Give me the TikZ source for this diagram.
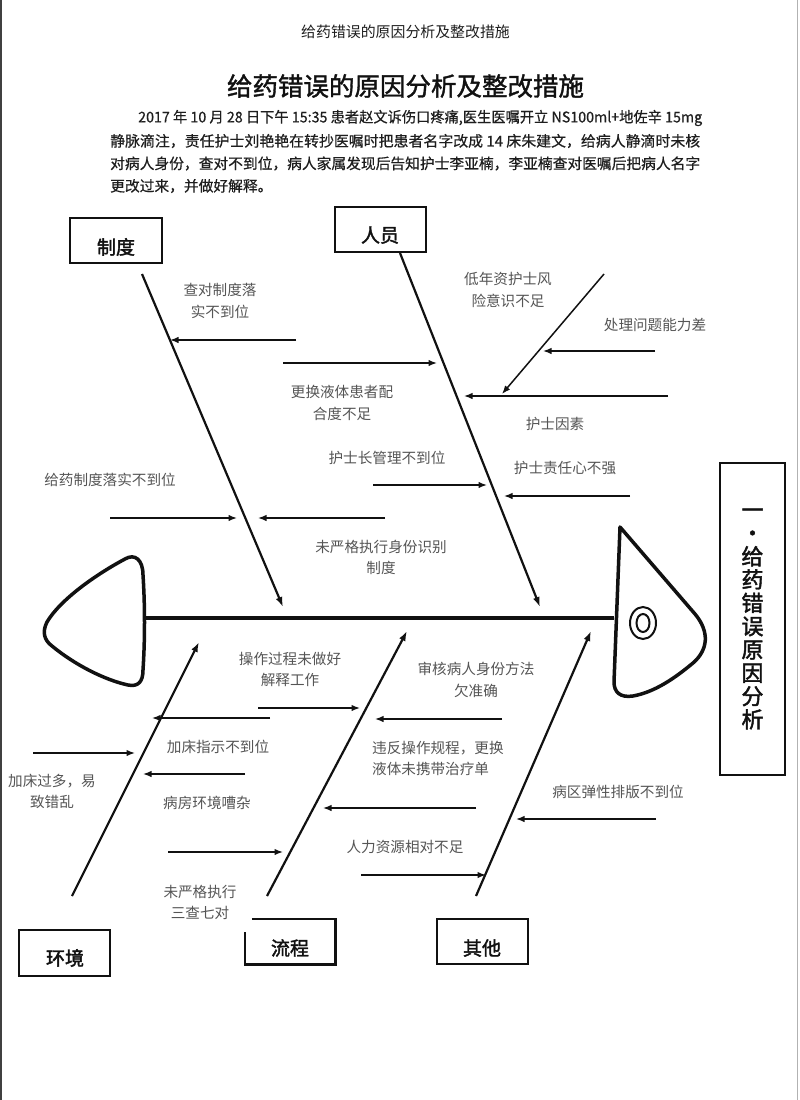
\documentclass[tikz,border=0pt]{standalone}
\usepackage{fontspec}
\setmainfont[AutoFakeBold=2]{Noto Sans CJK SC}
\newfontfamily\titlefont[FakeBold=1.4]{Noto Sans CJK SC}
\newfontfamily\parafont[FakeBold=0.5]{Noto Sans CJK SC}
\usepackage{graphicx}
\usetikzlibrary{arrows.meta}
\definecolor{labelgray}{HTML}{555555}
\definecolor{inkc}{HTML}{111111}
\definecolor{paragc}{HTML}{1E1E1E}
\begin{document}
\begin{tikzpicture}[x=1pt,y=-1pt,
  bone/.style={draw=inkc, line width=2.2pt, -{Latex[length=10pt,width=7pt]}},
  subarrow/.style={draw=inkc, line width=1.5pt, -{Latex[length=8.5pt,width=6.5pt]}},
  lbl/.style={text=labelgray, font=\fontsize{14.6}{21.5}\selectfont, align=center, inner sep=0pt},
  para/.style={text=paragc, font=\parafont\fontsize{14.75}{15}\selectfont, inner sep=0pt, anchor=west},
  catbox/.style={draw=inkc, line width=2.6pt, inner sep=0pt},
  cattext/.style={text=inkc, font=\bfseries\fontsize{19}{19}\selectfont, inner sep=0pt},
  fishline/.style={draw=inkc, line width=3.5pt, line join=round}
]
\fill[white] (0,0) rectangle (800,1100);
\path[use as bounding box] (0,0) rectangle (800,1100);
\draw[line width=1.5pt, black!75] (1,0) -- (1,1100);
\draw[line width=1pt, black!30] (797,0) -- (797,1100);

% header, title, paragraph
\node[text=paragc, font=\fontsize{14.9}{15}\selectfont, inner sep=0pt] (hdr) at (405.5,32) {给药错误的原因分析及整改措施};
\node[text=inkc, font=\titlefont\fontsize{25.5}{26}\selectfont, inner sep=0pt] (ttl) at (405.5,86) {给药错误的原因分析及整改措施};
\node[para] (p1) at (138,118) {\resizebox{564pt}{\height}{2017 年 10 月 28 日下午 15:35 患者赵文诉伤口疼痛,医生医嘱开立 NS100ml+地佐辛 15mg}};
\node[para] (p2) at (110,141) {\resizebox{590pt}{\height}{静脉滴注，责任护士刘艳艳在转抄医嘱时把患者名字改成 14 床朱建文，给病人静滴时未核}};
\node[para] (p3) at (110,163.5) {\resizebox{590pt}{\height}{对病人身份，查对不到位，病人家属发现后告知护士李亚楠，李亚楠查对医嘱后把病人名字}};
\node[para] (p4) at (110,186) {更改过来，并做好解释。};

% fish tail, spine, head
\draw[fishline] (143,575) .. controls (143,560) and (135,553) .. (125,559)
  .. controls (95,575) and (60,600) .. (47,622)
  .. controls (42,632) and (44,640) .. (52,646)
  .. controls (75,665) and (105,680) .. (128,685)
  .. controls (138,687) and (143,682) .. (143,670)
  .. controls (145,640) and (145,605) .. (143,575) -- cycle;
\coordinate (spL) at (144,618);
\coordinate (spR) at (614,618);
\draw[draw=inkc, line width=4pt] (spL) -- (spR);
\draw[fishline] (620,527) -- (695,614) .. controls (710,632) and (708,650) .. (693,663)
  .. controls (675,678) and (655,692) .. (633,696) .. controls (620,698) and (614,692) .. (614,682) -- cycle;
\draw[draw=inkc, line width=2pt] (643,623) ellipse [x radius=13, y radius=16];
\draw[draw=inkc, line width=2pt] (643,623) ellipse [x radius=6.5, y radius=9];

% right title box
\node[catbox, minimum width=65pt, minimum height=312pt, align=center,
      font=\bfseries\fontsize{22}{23.3}\selectfont, text=inkc] (rbox) at (752.5,619)
      {一\\·\\给\\药\\错\\误\\原\\因\\分\\析};

% category boxes
\node[catbox, minimum width=92pt, minimum height=45pt] (bxzd) at (116,240.5) {};
\node[cattext] (tzd) at (116,247) {制度};
\node[catbox, minimum width=91pt, minimum height=45pt] (bxry) at (380.5,229.5) {};
\node[cattext] (try) at (380,235) {人员};
\node[catbox, minimum width=91pt, minimum height=46pt] (bxhj) at (64.5,953) {};
\node[cattext] (thj) at (65,958) {环境};
\node[inner sep=0pt, minimum width=90pt, minimum height=45pt] (bxlc) at (290,941.5) {};
\draw[draw=inkc, line width=2.6pt] ([xshift=7pt]bxlc.north west) -- (bxlc.north east) -- (bxlc.south east) -- (bxlc.south west) -- ([yshift=-13pt]bxlc.north west);
\node[cattext] (tlc) at (290,948) {流程};
\node[catbox, minimum width=91pt, minimum height=45pt] (bxqt) at (482.5,941.5) {};
\node[cattext] (tqt) at (482,948) {其他};

% main bones
\coordinate (b1s) at (142,274); \coordinate (b1e) at (283,607);
\coordinate (b2s) at (400,253); \coordinate (b2e) at (540,607);
\coordinate (b3s) at (72,896);  \coordinate (b3e) at (199,642);
\coordinate (b4s) at (267,896); \coordinate (b4e) at (407,631);
\coordinate (b5s) at (476,896); \coordinate (b5e) at (591,631);
\draw[bone] (b1s) -- (b1e);
\draw[bone] (b2s) -- (b2e);
\draw[bone] (b3s) -- (b3e);
\draw[bone] (b4s) -- (b4e);
\draw[bone] (b5s) -- (b5e);

% sub arrows
\coordinate (a1s) at (296,340);  \coordinate (a1e) at (170,340);
\coordinate (a2s) at (283,363);  \coordinate (a2e) at (437,363);
\coordinate (a3s) at (373,485);  \coordinate (a3e) at (487,485);
\coordinate (a4s) at (110,518);  \coordinate (a4e) at (237,518);
\coordinate (a5s) at (385,518);  \coordinate (a5e) at (258,518);
\coordinate (a6s) at (604,274);  \coordinate (a6e) at (502,394);
\coordinate (a7s) at (655,351);  \coordinate (a7e) at (543,351);
\coordinate (a8s) at (668,396);  \coordinate (a8e) at (464,396);
\coordinate (a9s) at (630,496);  \coordinate (a9e) at (504,496);
\coordinate (a10s) at (258,708); \coordinate (a10e) at (360,708);
\coordinate (a11s) at (270,718); \coordinate (a11e) at (152,718);
\coordinate (a12s) at (33,753);  \coordinate (a12e) at (135,753);
\coordinate (a13s) at (245,774); \coordinate (a13e) at (143,774);
\coordinate (a14s) at (168,852); \coordinate (a14e) at (283,852);
\coordinate (a15s) at (502,719); \coordinate (a15e) at (375,719);
\coordinate (a16s) at (476,808); \coordinate (a16e) at (323,808);
\coordinate (a17s) at (656,819); \coordinate (a17e) at (516,819);
\coordinate (a18s) at (361,875); \coordinate (a18e) at (486,875);
\foreach \i in {1,...,18} {\draw[subarrow] (a\i s) -- (a\i e);}

% labels
\node[lbl] (l1) at (220,301) {查对制度落\\实不到位};
\node[lbl] (l2) at (342,403) {更换液体患者配\\合度不足};
\node[lbl] (l3) at (387,458) {护士长管理不到位};
\node[lbl] (l4) at (110,480) {给药制度落实不到位};
\node[lbl] (l5) at (381,557.5) {未严格执行身份识别\\制度};
\node[lbl] (l6) at (508,290) {低年资护士风\\险意识不足};
\node[lbl] (l7) at (655,325) {处理问题能力差};
\node[lbl] (l8) at (555,424) {护士因素};
\node[lbl] (l9) at (565,468) {护士责任心不强};
\node[lbl] (l10) at (290,669.5) {操作过程未做好\\解释工作};
\node[lbl] (l11) at (218,747) {加床指示不到位};
\node[lbl] (l12) at (52,791.5) {加床过多，易\\致错乱};
\node[lbl] (l13) at (207,803) {病房环境嘈杂};
\node[lbl] (l14) at (200,902.5) {未严格执行\\三查七对};
\node[lbl] (l15) at (476,680) {审核病人身份方法\\欠准确};
\node[lbl, align=left, anchor=west] (l16) at (372,758.5) {违反操作规程，更换\\液体未携带治疗单};
\node[lbl] (l17) at (618,792) {病区弹性排版不到位};
\node[lbl] (l18) at (405,847) {人力资源相对不足};
\end{tikzpicture}
\end{document}
